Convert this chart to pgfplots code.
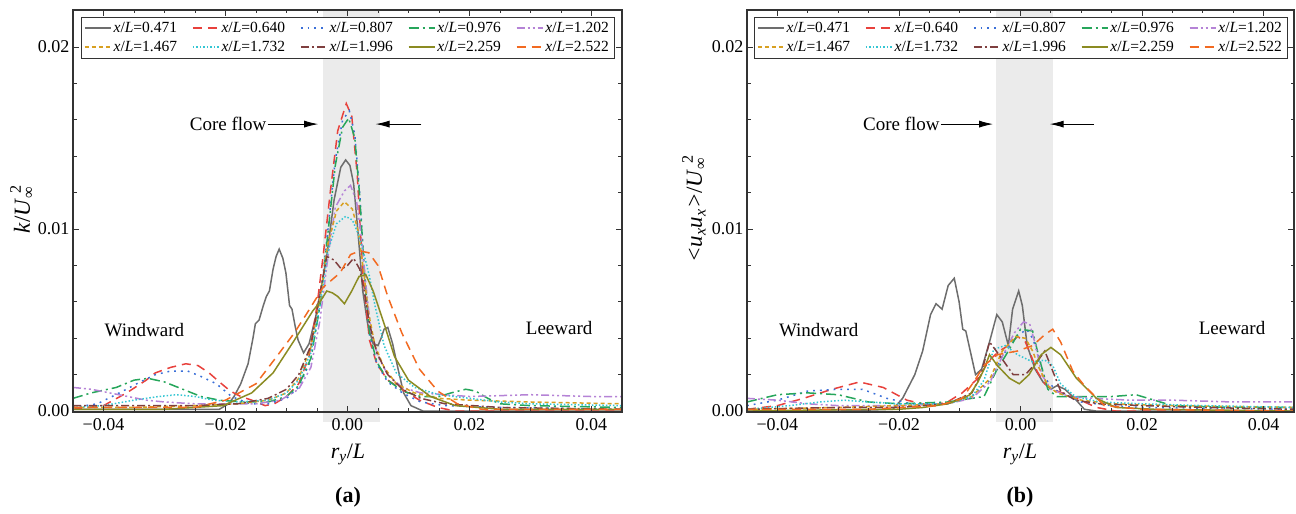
\documentclass[border=0pt]{standalone}
\usepackage{fontspec}
\setmainfont{Liberation Serif}
\usepackage{pgfplots}
\pgfplotsset{compat=1.18}
\usetikzlibrary{arrows.meta}
\definecolor{cA}{HTML}{6D6D6D}
\definecolor{cB}{HTML}{E8413C}
\definecolor{cC}{HTML}{3A6FD8}
\definecolor{cD}{HTML}{26A65B}
\definecolor{cE}{HTML}{B583D6}
\definecolor{cF}{HTML}{D8A021}
\definecolor{cG}{HTML}{34C6D3}
\definecolor{cH}{HTML}{7F3F3F}
\definecolor{cI}{HTML}{8B8B22}
\definecolor{cJ}{HTML}{F26A21}
\pgfplotsset{
 myaxis/.style={
  scale only axis, height=402pt,
  xmin=-0.045, xmax=0.045, ymin=-0.00005, ymax=0.02204,
  xtick={-0.04,-0.02,0,0.02,0.04}, xticklabels={−0.04,−0.02,0.00,0.02,0.04},
  ytick={0,0.01,0.02}, yticklabels={0.00,0.01,0.02},
  minor x tick num=3, minor y tick num=4,
  tick align=inside, major tick length=6pt, minor tick length=3.5pt,
  scaled ticks=false,
  tick label style={font=\fontsize{18}{20}\selectfont},
  xticklabel style={yshift=-3pt},
  axis line style={black!80, line width=1.1pt},
  every tick/.style={black!80, line width=0.9pt},
  axis on top, clip=false,
  legend columns=5,
  legend style={at={(0.5,1)}, anchor=north, yshift=-7pt, font=\fontsize{15.5}{18.5}\selectfont, draw=black!80, fill=white,
    /tikz/every even column/.append style={column sep=13pt}, row sep=3pt, inner ysep=3pt, inner xsep=3pt},
  legend image code/.code={\draw[#1] (0pt,0pt) -- (26pt,0pt);},
 },
}
\newcommand{\xl}[1]{\textit{x}/\textit{L}=#1}
\newcommand{\Uinf}{\textit{U}\rlap{\textsubscript{∞}}\textsuperscript{\,\,2}}
\begin{document}
\begin{tikzpicture}
\useasboundingbox (0,0) rectangle (1296pt,514pt);
% ---------------- panel (a)
\begin{axis}[myaxis, width=549pt, at={(73pt,102pt)}, anchor=south west]
\fill[black!8] (axis cs:-0.004,0.02204) rectangle (axis cs:0.0053,-0.0006);
\addplot[color=cA, line width=1.5pt, solid] coordinates {(-0.045,0.0001) (-0.035,0.0001) (-0.025,0.0001) (-0.021,0.0001) (-0.0195,0.0004) (-0.0186,0.0008) (-0.0175,0.0015) (-0.0163,0.0026) (-0.0155,0.0040) (-0.0151,0.0048) (-0.0145,0.0050) (-0.0138,0.0058) (-0.0133,0.0063) (-0.0128,0.0066) (-0.0122,0.0078) (-0.0117,0.0085) (-0.0112,0.0089) (-0.0106,0.0084) (-0.0101,0.0076) (-0.0095,0.0058) (-0.0091,0.0056) (-0.0086,0.0047) (-0.0081,0.0039) (-0.0072,0.0032) (-0.0063,0.0037) (-0.0052,0.0052) (-0.0043,0.0068) (-0.0034,0.0085) (-0.0022,0.0116) (-0.0011,0.0134) (-0.0003,0.0138) (0.0004,0.0135) (0.0010,0.0125) (0.0016,0.0103) (0.0021,0.0083) (0.0025,0.0066) (0.0033,0.0048) (0.0042,0.0037) (0.0050,0.0036) (0.0055,0.0040) (0.0060,0.0045) (0.0066,0.0046) (0.0074,0.0037) (0.0083,0.0023) (0.0092,0.0010) (0.0104,0.0003) (0.0124,0.0000) (0.020,0.0000) (0.045,0.0000)};
\addlegendentry{\xl{0.471}}
\addplot[color=cB, line width=1.5pt, dash pattern=on 9pt off 6pt] coordinates {(-0.045,0.0001) (-0.040,0.0003) (-0.0362,0.0010) (-0.033,0.0017) (-0.0315,0.0021) (-0.029,0.0024) (-0.0265,0.0026) (-0.0245,0.0025) (-0.0227,0.0021) (-0.021,0.0016) (-0.0192,0.0011) (-0.0175,0.0008) (-0.0157,0.0006) (-0.0135,0.0003) (-0.012,0.0004) (-0.010,0.0008) (-0.008,0.0015) (-0.0063,0.0030) (-0.005,0.0058) (-0.004,0.0085) (-0.0028,0.0121) (-0.0016,0.0154) (-0.0002,0.0169) (0.0007,0.0162) (0.0016,0.0130) (0.0025,0.0076) (0.0036,0.0039) (0.0048,0.0026) (0.0066,0.0017) (0.0089,0.0012) (0.0118,0.0006) (0.0148,0.0002) (0.0177,0.0000) (0.045,0.0000)};
\addlegendentry{\xl{0.640}}
\addplot[color=cC, line width=1.5pt, dash pattern=on 1.8pt off 5pt] coordinates {(-0.045,0.0002) (-0.041,0.0004) (-0.0368,0.0011) (-0.034,0.0016) (-0.0315,0.0020) (-0.029,0.0022) (-0.0262,0.0022) (-0.024,0.0019) (-0.0215,0.0015) (-0.019,0.0008) (-0.016,0.0004) (-0.013,0.0004) (-0.010,0.0007) (-0.008,0.0013) (-0.006,0.0028) (-0.0045,0.0060) (-0.0032,0.0100) (-0.002,0.0138) (-0.0008,0.0160) (0.0003,0.0165) (0.0012,0.0152) (0.0020,0.0120) (0.0028,0.0075) (0.0036,0.0042) (0.0048,0.0026) (0.0066,0.0016) (0.009,0.0010) (0.012,0.0005) (0.016,0.0003) (0.025,0.0002) (0.045,0.0001)};
\addlegendentry{\xl{0.807}}
\addplot[color=cD, line width=1.5pt, dash pattern=on 10pt off 4pt on 2pt off 4pt] coordinates {(-0.045,0.0007) (-0.042,0.0010) (-0.0379,0.0013) (-0.035,0.0017) (-0.0327,0.0018) (-0.030,0.0016) (-0.027,0.0012) (-0.024,0.0008) (-0.021,0.0006) (-0.017,0.0005) (-0.013,0.0005) (-0.010,0.0008) (-0.008,0.0014) (-0.006,0.0029) (-0.0045,0.0058) (-0.0032,0.0098) (-0.002,0.0135) (-0.0008,0.0156) (0.0002,0.0161) (0.0012,0.0150) (0.002,0.0118) (0.0028,0.0075) (0.0036,0.0043) (0.0048,0.0027) (0.0066,0.0017) (0.009,0.0011) (0.012,0.0008) (0.015,0.0008) (0.017,0.0010) (0.0194,0.0012) (0.021,0.0011) (0.023,0.0007) (0.025,0.0004) (0.030,0.0003) (0.045,0.0002)};
\addlegendentry{\xl{0.976}}
\addplot[color=cE, line width=1.5pt, dash pattern=on 8pt off 3pt on 2pt off 3pt on 2pt off 3pt] coordinates {(-0.045,0.0013) (-0.042,0.0012) (-0.039,0.0010) (-0.036,0.0008) (-0.033,0.0006) (-0.030,0.0005) (-0.025,0.0004) (-0.020,0.0004) (-0.015,0.0004) (-0.011,0.0006) (-0.008,0.0012) (-0.006,0.0024) (-0.0045,0.0050) (-0.0032,0.0085) (-0.002,0.0112) (-0.0005,0.0121) (0.0005,0.0124) (0.0015,0.0115) (0.0023,0.0095) (0.003,0.0070) (0.0038,0.0045) (0.005,0.0030) (0.0066,0.0020) (0.009,0.0013) (0.012,0.0010) (0.016,0.0009) (0.020,0.0008) (0.030,0.0009) (0.040,0.0008) (0.045,0.0008)};
\addlegendentry{\xl{1.202}}
\addplot[color=cF, line width=1.5pt, dash pattern=on 4pt off 3pt] coordinates {(-0.045,0.0002) (-0.035,0.0002) (-0.025,0.0003) (-0.018,0.0004) (-0.013,0.0006) (-0.010,0.0010) (-0.008,0.0018) (-0.006,0.0035) (-0.0045,0.0062) (-0.0032,0.0092) (-0.0018,0.0110) (-0.0005,0.0115) (0.0008,0.0111) (0.0018,0.0098) (0.0026,0.0078) (0.0034,0.0055) (0.0045,0.0036) (0.006,0.0024) (0.008,0.0015) (0.011,0.0010) (0.015,0.0007) (0.020,0.0006) (0.030,0.0005) (0.045,0.0004)};
\addlegendentry{\xl{1.467}}
\addplot[color=cG, line width=1.5pt, dash pattern=on 1.5pt off 2pt] coordinates {(-0.045,0.0002) (-0.040,0.0003) (-0.035,0.0006) (-0.031,0.0008) (-0.028,0.0009) (-0.025,0.0008) (-0.022,0.0006) (-0.018,0.0005) (-0.013,0.0006) (-0.010,0.0010) (-0.008,0.0017) (-0.006,0.0032) (-0.0045,0.0058) (-0.0032,0.0088) (-0.0018,0.0103) (-0.0003,0.0107) (0.0008,0.0105) (0.0018,0.0097) (0.0028,0.0085) (0.0036,0.0074) (0.0045,0.0058) (0.006,0.0036) (0.008,0.0021) (0.011,0.0013) (0.015,0.0009) (0.020,0.0007) (0.025,0.0005) (0.030,0.0004) (0.045,0.0003)};
\addlegendentry{\xl{1.732}}
\addplot[color=cH, line width=1.5pt, dash pattern=on 8pt off 3pt on 2pt off 3pt] coordinates {(-0.045,0.0003) (-0.035,0.0003) (-0.025,0.0003) (-0.018,0.0004) (-0.013,0.0007) (-0.010,0.0012) (-0.008,0.0020) (-0.006,0.0036) (-0.0045,0.0065) (-0.0034,0.0085) (-0.0022,0.0083) (-0.0010,0.0078) (0.0000,0.0080) (0.0010,0.0084) (0.0020,0.0078) (0.0028,0.0065) (0.0036,0.0048) (0.0048,0.0032) (0.0066,0.0020) (0.009,0.0012) (0.012,0.0007) (0.016,0.0004) (0.025,0.0002) (0.045,0.0001)};
\addlegendentry{\xl{1.996}}
\addplot[color=cI, line width=1.5pt, solid] coordinates {(-0.045,0.0001) (-0.030,0.0001) (-0.0204,0.0003) (-0.0157,0.0010) (-0.0122,0.0021) (-0.0087,0.0039) (-0.0057,0.0055) (-0.0045,0.0060) (-0.0034,0.0066) (-0.0025,0.0065) (-0.0016,0.0063) (-0.0005,0.0059) (0.0007,0.0066) (0.0019,0.0074) (0.003,0.0075) (0.0042,0.0066) (0.006,0.0048) (0.0077,0.0030) (0.010,0.0017) (0.0136,0.0008) (0.0177,0.0003) (0.025,0.0001) (0.045,0.0001)};
\addlegendentry{\xl{2.259}}
\addplot[color=cJ, line width=1.5pt, dash pattern=on 9pt off 6pt] coordinates {(-0.045,0.0002) (-0.035,0.0002) (-0.025,0.0002) (-0.020,0.0006) (-0.015,0.0015) (-0.0116,0.0030) (-0.0087,0.0043) (-0.0066,0.0054) (-0.004,0.0068) (-0.0012,0.0076) (0.0005,0.0086) (0.002,0.0088) (0.0035,0.0087) (0.005,0.0080) (0.0066,0.0063) (0.0089,0.0043) (0.0118,0.0023) (0.0148,0.0011) (0.018,0.0004) (0.022,0.0001) (0.045,0.0001)};
\addlegendentry{\xl{2.522}}
\node[anchor=east, font=\fontsize{19}{21}\selectfont, inner sep=1pt] at (axis cs:-0.0131,0.01577) {Core flow};
\draw[-{Latex[length=14pt,width=7pt]}, line width=0.9pt] (axis cs:-0.0131,0.01577) -- (axis cs:-0.0048,0.01577);
\draw[-{Latex[length=14pt,width=7pt]}, line width=0.9pt] (axis cs:0.0121,0.01577) -- (axis cs:0.0046,0.01577);
\node[font=\fontsize{19}{21}\selectfont] at (axis cs:-0.0333,0.00445) {Windward};
\node[font=\fontsize{19}{21}\selectfont] at (axis cs:0.0347,0.00456) {Leeward};
\end{axis}
% ---------------- panel (b)
\begin{axis}[myaxis, width=547pt, at={(747pt,102pt)}, anchor=south west]
\fill[black!8] (axis cs:-0.004,0.02204) rectangle (axis cs:0.0053,-0.0006);
\addplot[color=cA, line width=1.5pt, solid] coordinates {(-0.045,0.0000) (-0.030,0.0000) (-0.021,0.0001) (-0.0194,0.0007) (-0.0174,0.0020) (-0.0161,0.0033) (-0.0148,0.0053) (-0.0139,0.0059) (-0.0129,0.0056) (-0.0119,0.0069) (-0.0109,0.0073) (-0.0101,0.0060) (-0.0095,0.0045) (-0.0090,0.0044) (-0.0080,0.0029) (-0.0074,0.0020) (-0.0064,0.0023) (-0.0051,0.0038) (-0.0039,0.0053) (-0.0030,0.0049) (-0.0020,0.0036) (-0.0013,0.0056) (-0.0003,0.0066) (0.0003,0.0058) (0.0011,0.0036) (0.0024,0.0023) (0.0037,0.0016) (0.0050,0.0012) (0.0060,0.0014) (0.0073,0.0012) (0.0089,0.0007) (0.0105,0.0001) (0.0125,0.0000) (0.045,0.0000)};
\addlegendentry{\xl{0.471}}
\addplot[color=cB, line width=1.5pt, dash pattern=on 9pt off 6pt] coordinates {(-0.045,0.0001) (-0.040,0.0003) (-0.0357,0.0007) (-0.031,0.0012) (-0.0265,0.0016) (-0.0226,0.0013) (-0.0187,0.0006) (-0.0148,0.0003) (-0.012,0.0005) (-0.0096,0.0010) (-0.007,0.0018) (-0.0051,0.0028) (-0.0035,0.0033) (-0.0020,0.0036) (-0.0005,0.0041) (0.0008,0.0038) (0.0018,0.0030) (0.0027,0.0022) (0.004,0.0015) (0.0053,0.0012) (0.0092,0.0007) (0.0125,0.0002) (0.0157,0.0000) (0.045,0.0000)};
\addlegendentry{\xl{0.640}}
\addplot[color=cC, line width=1.5pt, dash pattern=on 1.8pt off 5pt] coordinates {(-0.045,0.0003) (-0.040,0.0006) (-0.035,0.0011) (-0.030,0.0012) (-0.026,0.0012) (-0.022,0.0007) (-0.018,0.0004) (-0.012,0.0004) (-0.008,0.0008) (-0.005,0.0017) (-0.003,0.0030) (-0.001,0.0040) (0.001,0.0045) (0.002,0.0040) (0.003,0.0030) (0.004,0.0018) (0.006,0.0011) (0.010,0.0005) (0.015,0.0003) (0.020,0.0002) (0.045,0.0001)};
\addlegendentry{\xl{0.807}}
\addplot[color=cD, line width=1.5pt, dash pattern=on 10pt off 4pt on 2pt off 4pt] coordinates {(-0.045,0.0005) (-0.040,0.0009) (-0.035,0.0010) (-0.030,0.0009) (-0.025,0.0005) (-0.020,0.0004) (-0.012,0.0005) (-0.006,0.0008) (-0.004,0.0022) (-0.002,0.0033) (0.000,0.0045) (0.002,0.0044) (0.003,0.0030) (0.0045,0.0012) (0.006,0.0008) (0.010,0.0008) (0.015,0.0008) (0.019,0.0009) (0.022,0.0006) (0.025,0.0003) (0.035,0.0002) (0.045,0.0002)};
\addlegendentry{\xl{0.976}}
\addplot[color=cE, line width=1.5pt, dash pattern=on 8pt off 3pt on 2pt off 3pt on 2pt off 3pt] coordinates {(-0.045,0.0007) (-0.040,0.0006) (-0.035,0.0004) (-0.030,0.0003) (-0.020,0.0003) (-0.012,0.0004) (-0.008,0.0007) (-0.005,0.0016) (-0.003,0.0030) (-0.001,0.0043) (0.0005,0.0049) (0.0015,0.0048) (0.0025,0.0036) (0.0035,0.0020) (0.005,0.0012) (0.008,0.0008) (0.012,0.0007) (0.018,0.0006) (0.025,0.0006) (0.035,0.0005) (0.045,0.0005)};
\addlegendentry{\xl{1.202}}
\addplot[color=cF, line width=1.5pt, dash pattern=on 4pt off 3pt] coordinates {(-0.045,0.0001) (-0.030,0.0002) (-0.020,0.0003) (-0.012,0.0004) (-0.008,0.0008) (-0.005,0.0018) (-0.003,0.0033) (-0.0008,0.0041) (0.0008,0.0040) (0.002,0.0033) (0.003,0.0024) (0.0045,0.0014) (0.006,0.0010) (0.010,0.0006) (0.015,0.0004) (0.025,0.0003) (0.045,0.0002)};
\addlegendentry{\xl{1.467}}
\addplot[color=cG, line width=1.5pt, dash pattern=on 1.5pt off 2pt] coordinates {(-0.045,0.0001) (-0.038,0.0003) (-0.033,0.0005) (-0.029,0.0006) (-0.025,0.0005) (-0.020,0.0004) (-0.012,0.0004) (-0.008,0.0008) (-0.006,0.0017) (-0.0044,0.0034) (-0.0025,0.0036) (-0.0005,0.0031) (0.002,0.0027) (0.004,0.0028) (0.0053,0.0025) (0.0066,0.0015) (0.009,0.0008) (0.013,0.0005) (0.020,0.0004) (0.030,0.0003) (0.045,0.0002)};
\addlegendentry{\xl{1.732}}
\addplot[color=cH, line width=1.5pt, dash pattern=on 8pt off 3pt on 2pt off 3pt] coordinates {(-0.045,0.0001) (-0.030,0.0002) (-0.020,0.0002) (-0.012,0.0004) (-0.008,0.0010) (-0.0065,0.0020) (-0.0051,0.0038) (-0.0031,0.0029) (-0.0012,0.0020) (0.0008,0.0020) (0.0027,0.0027) (0.0040,0.0033) (0.0053,0.0022) (0.0066,0.0011) (0.009,0.0006) (0.013,0.0004) (0.020,0.0003) (0.030,0.0002) (0.045,0.0001)};
\addlegendentry{\xl{1.996}}
\addplot[color=cI, line width=1.5pt, solid] coordinates {(-0.045,0.0000) (-0.025,0.0001) (-0.020,0.0001) (-0.016,0.0002) (-0.012,0.0004) (-0.0095,0.0007) (-0.0083,0.0009) (-0.0070,0.0016) (-0.0060,0.0023) (-0.0051,0.0031) (-0.0038,0.0025) (-0.0018,0.0018) (-0.0002,0.0015) (0.0014,0.0020) (0.0034,0.0031) (0.0050,0.0035) (0.0066,0.0031) (0.0092,0.0018) (0.0125,0.0007) (0.0157,0.0002) (0.022,0.0001) (0.045,0.0000)};
\addlegendentry{\xl{2.259}}
\addplot[color=cJ, line width=1.5pt, dash pattern=on 9pt off 6pt] coordinates {(-0.045,0.0001) (-0.025,0.0001) (-0.0135,0.0003) (-0.0096,0.0007) (-0.0077,0.0016) (-0.006,0.0025) (-0.0038,0.0031) (-0.0005,0.0033) (0.002,0.0036) (0.0040,0.0042) (0.0053,0.0045) (0.0066,0.0038) (0.0086,0.0022) (0.0105,0.0014) (0.0138,0.0003) (0.020,0.0001) (0.045,0.0000)};
\addlegendentry{\xl{2.522}}
\node[anchor=east, font=\fontsize{19}{21}\selectfont, inner sep=1pt] at (axis cs:-0.0131,0.01577) {Core flow};
\draw[-{Latex[length=14pt,width=7pt]}, line width=0.9pt] (axis cs:-0.0131,0.01577) -- (axis cs:-0.0045,0.01577);
\draw[-{Latex[length=14pt,width=7pt]}, line width=0.9pt] (axis cs:0.0121,0.01577) -- (axis cs:0.0048,0.01577);
\node[font=\fontsize{19}{21}\selectfont] at (axis cs:-0.0332,0.00445) {Windward};
\node[font=\fontsize{19}{21}\selectfont] at (axis cs:0.0348,0.00456) {Leeward};
\end{axis}
% ---------------- labels
\node[rotate=90, font=\fontsize{23}{25}\selectfont] at (22pt,305pt) {\textit{k}/\Uinf};
\node[rotate=90, font=\fontsize{23}{25}\selectfont] at (694pt,305pt) {\textit{<u}\textsubscript{\textit{x}}\textit{u}\textsubscript{\textit{x}}\textit{>}/\Uinf};
\node[font=\fontsize{22}{24}\selectfont] at (348pt,60pt) {\textit{r}\textsubscript{\textit{y}}/\textit{L}};
\node[font=\fontsize{22}{24}\selectfont] at (1020pt,60pt) {\textit{r}\textsubscript{\textit{y}}/\textit{L}};
\node[font=\bfseries\fontsize{22}{24}\selectfont] at (348pt,17pt) {(a)};
\node[font=\bfseries\fontsize{22}{24}\selectfont] at (1020pt,17pt) {(b)};
\end{tikzpicture}
\end{document}
